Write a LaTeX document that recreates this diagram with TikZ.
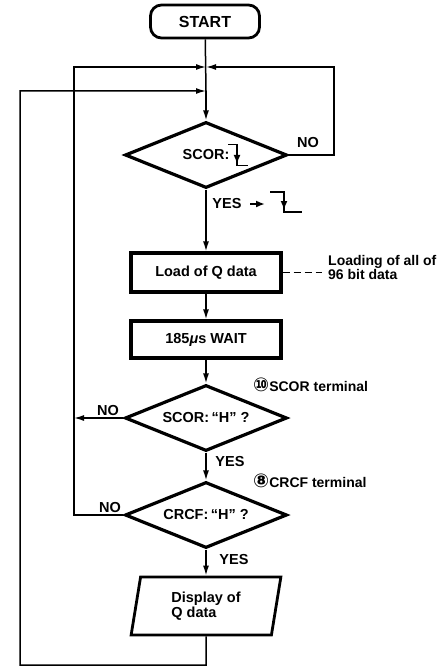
\documentclass[tikz,border=0pt]{standalone}
\usepackage{fontspec}
\setmainfont{Liberation Sans}
\newfontfamily\dejavu{DejaVu Sans}
\newcommand\circnumfont{\dejavu\fontsize{19}{19}\selectfont}
\usetikzlibrary{shapes.geometric,arrows.meta,calc}
\begin{document}
\begin{tikzpicture}[x=1pt,y=-1pt,
  font=\fontsize{14.5}{15}\selectfont\bfseries,
  conn/.style={line width=1.5pt},
  arr/.style={conn,-{Latex[length=10pt,width=6pt]}},
  sym/.style={line width=1.9pt},
  symarr/.style={line width=1.9pt,-{Latex[length=9pt,width=7pt]}},
  boxshape/.style={draw,line width=3.2pt,minimum width=150pt,inner sep=0pt},
  dia/.style={draw,diamond,aspect=2.45,line width=3.2pt,minimum width=162pt,minimum height=66pt,inner sep=0pt},
  term/.style={draw,rounded corners=11pt,line width=2.8pt,minimum width=109pt,minimum height=33pt,inner sep=0pt},
  lab/.style={inner sep=0pt},
  note/.style={inner sep=0pt,font=\fontsize{14}{14.5}\selectfont\bfseries,align=left}
]
\useasboundingbox (0,0) rectangle (438,671);

% nodes
\node[term,font=\fontsize{16}{16}\selectfont\bfseries] (start) at (205,21.5) {START};
\coordinate (j1) at (206,67);
\coordinate (j2) at (206,91);
\node[dia] (d1) at (206,155) {SCOR:\hspace{34pt}};
\node[boxshape,minimum height=39pt] (load) at (206,272.5) {Load of Q data};
\node[boxshape,minimum height=37pt] (wait) at (206,339.5) {185{\itshape μ}s WAIT};
\node[dia] (d2) at (206,418) {SCOR:\,“H”\;?};
\node[dia] (d3) at (206,515) {CRCF:\,“H”\;?};
\node[draw,trapezium,trapezium left angle=80,trapezium right angle=100,trapezium stretches=true,
      minimum width=150pt,minimum height=58pt,line width=2.8pt,inner sep=0pt,align=left] (disp) at (206,606) {Display of\\Q data};

% main flow
\draw[conn] (start) -- (j2);
\draw[arr] (j2) -- (d1.north);
\draw[arr] (d1.south) -- (load.north);
\draw[arr] (load) -- (wait);
\draw[arr] (wait) -- (d2);
\draw[arr] (d2) -- (d3);
\draw[arr] (d3) -- (disp);

% right loop (NO of first decision)
\coordinate (r1) at (334,155);
\coordinate (r2) at (334,67);
\draw[arr] (d1.east) -- (r1) -- (r2) -- (j1);

% inner loop
\coordinate (i1) at (74,67);
\coordinate (i2) at (74,418);
\coordinate (i3) at (74,515);
\draw[arr] (d3.west) -- (i3) -- (i1) -- (j1);
\draw[arr] (d2.west) -- (i2);

% outer loop
\coordinate (o1) at (206,665);
\coordinate (o2) at (20,665);
\coordinate (o3) at (20,91);
\draw[arr] (disp.south) -- (o1) -- (o2) -- (o3) -- (j2);

% labels
\node[lab] (no1) at (308,143) {NO};
\node[lab] (yes1) at (227,204) {YES};
\node[lab] (no2) at (108,411) {NO};
\node[lab] (yes2) at (230,462) {YES};
\node[lab] (no3) at (110,508) {NO};
\node[lab] (yes3) at (234,560) {YES};

% falling edge symbols
\begin{scope}[shift={(d1.center)}]
  \draw[sym] (22,-10.5) -- (31,-10.5) -- (31,10.5) -- (42,10.5);
  \draw[symarr] (31,-10.5) -- (31,9);
\end{scope}
\begin{scope}[shift={(yes1.center)}]
  \draw[symarr] (23,0) -- (38,0);
  \draw[sym] (43,-12) -- (57,-12) -- (57,8) -- (75,8);
  \draw[symarr] (57,-12) -- (57,6);
\end{scope}

% annotations
\node[note,anchor=west] (nload) at (328,267.5) {Loading of all of\\96 bit data};
\draw[conn,dash pattern=on 7pt off 4pt] (load.east) -- ([xshift=-6pt]nload.west |- load.east);
\node[note,anchor=west] (n10) at (253,385) {{\circnumfont ⑩}SCOR terminal};
\node[note,anchor=west] (n8) at (253,481) {{\circnumfont ⑧}CRCF terminal};
\end{tikzpicture}
\end{document}
